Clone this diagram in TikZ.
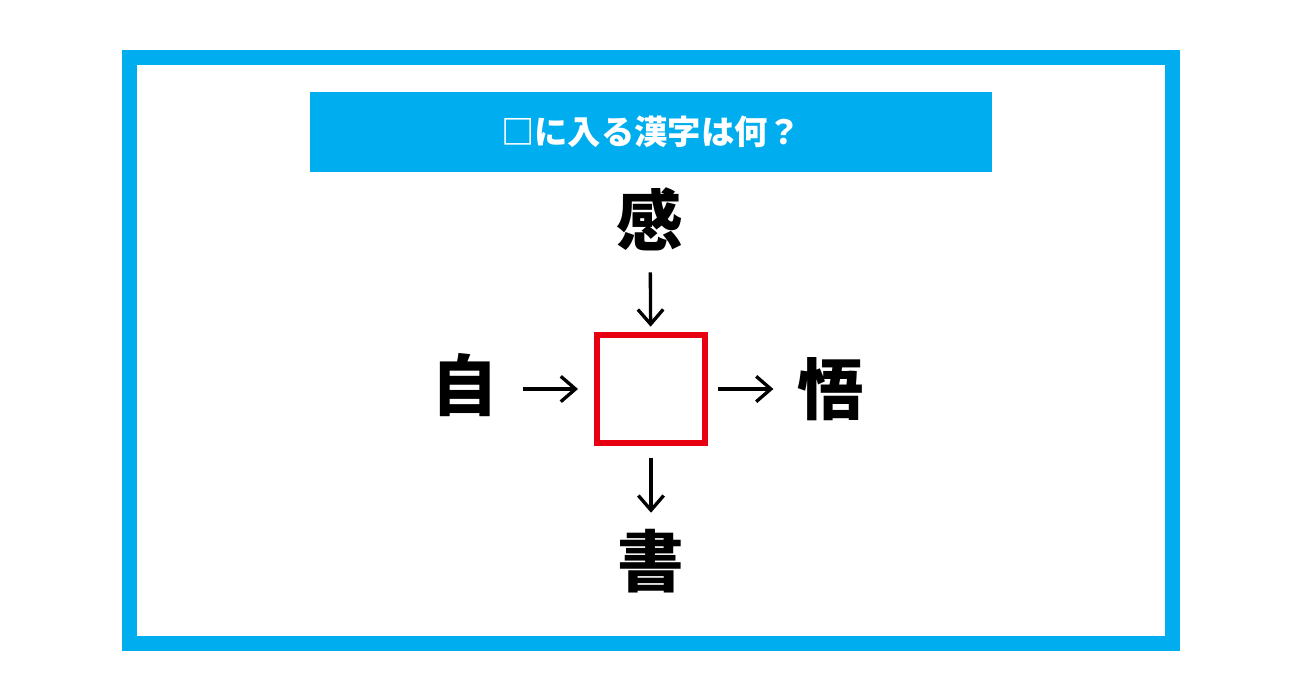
\documentclass[tikz,border=0pt]{standalone}
\usepackage{fontspec}
\usepackage{tikz}
\usetikzlibrary{arrows.meta, positioning}
\newfontfamily\cjk{Noto Sans CJK JP Black}
\definecolor{frameblue}{HTML}{00AEEF}
\definecolor{boxred}{HTML}{E60012}
\tikzstyle{arrow} = [line width=2.5pt, -{Straight Barb[length=11pt, width=19pt]}]
\tikzstyle{kanji} = [inner sep=0, text height=44pt, text depth=6pt, font=\cjk\fontsize{50}{50}\selectfont]

\begin{document}
\begin{tikzpicture}[x=0.75pt, y=-0.75pt]
\useasboundingbox (0, 0) rectangle (1301, 682);
\draw[frameblue, line width=11.25pt] (129.5, 57) rectangle (1172.5, 643.5);

\node (title) [rectangle, fill=frameblue, minimum width=511.5pt, minimum height=60pt, text=white, font=\cjk\fontsize{25}{25}\selectfont] at (651, 132) {□に入る漢字は何？};

\node (blank) [rectangle, draw=boxred, line width=4.5pt, minimum size=81pt] at (651, 389) {};
\node (kan) [kanji] at (650, 220) {感};
\node (ji) [kanji] at (465, 385) {自};
\node (go) [kanji] at (831, 389) {悟};
\node (sho) [kanji] at (651, 561) {書};

\draw[arrow, shorten <=14pt, shorten >=4pt] (kan) -- (blank);
\draw[arrow, shorten <=18pt, shorten >=12pt] (ji.east |- blank) -- (blank);
\draw[arrow, shorten <=7.5pt, shorten >=18pt] (blank) -- (go.west |- blank);
\draw[arrow, shorten <=9pt, shorten >=11pt] (blank) -- (sho);
\end{tikzpicture}
\end{document}
